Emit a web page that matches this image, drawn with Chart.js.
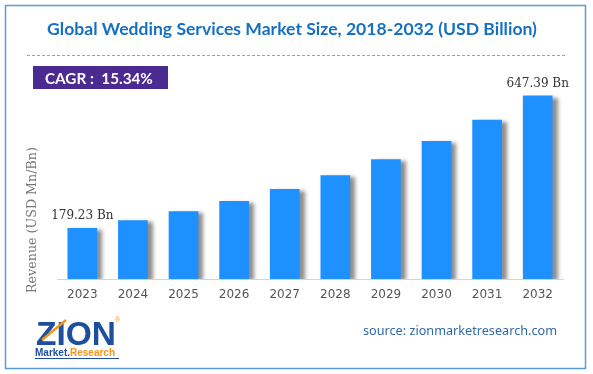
<!DOCTYPE html>
<html lang="en">
  <head>
    <meta charset="utf-8">
    <title>Global Wedding Services Market Size</title>
    <style>
      body { margin: 0; background: #fff; }
      canvas { display: block; }
    </style>
  </head>
  <body>
    <canvas id="myChart" width="593" height="374"></canvas>

    <script src="https://cdn.jsdelivr.net/npm/chart.js@4/dist/chart.umd.min.js"></script>
    <script>
      var years = ['2023', '2024', '2025', '2026', '2027', '2028', '2029', '2030', '2031', '2032'];
      var revenue = [179.23, 206.7, 238.4, 275.0, 317.2, 365.9, 422.0, 486.7, 561.4, 647.39];
      var labelled = [0, 9]; // only first and last bars get a value label

      var titleText = 'Global Wedding Services Market Size, 2018-2032 (USD Billion)';
      var cagrText = 'CAGR :  15.34%';
      var yTitle = 'Revenue (USD Mn/Bn)';
      var sourceText = 'source: zionmarketresearch.com';

      // fit a string into a given width
      function fitFont(ctx, text, width, weight, family) {
        ctx.font = weight + ' 100px ' + family;
        var size = 100 * width / ctx.measureText(text).width;
        ctx.font = weight + ' ' + size.toFixed(2) + 'px ' + family;
      }

      var shadowPlugin = {
        id: 'barShadow',
        beforeDatasetsDraw: function(chart) {
          var ctx = chart.ctx;
          ctx.save();
          ctx.shadowColor = 'rgba(0, 0, 0, 0.45)';
          ctx.shadowBlur = 4;
          ctx.shadowOffsetX = 5;
          ctx.shadowOffsetY = 2;
        },
        afterDatasetsDraw: function(chart) {
          chart.ctx.restore();
        }
      };

      var decoPlugin = {
        id: 'deco',
        beforeDraw: function(chart) {
          var ctx = chart.ctx;
          ctx.save();
          // outer frame
          ctx.strokeStyle = '#5b9bd5';
          ctx.lineWidth = 1.5;
          ctx.strokeRect(5.5, 5.5, 580, 363);

          // title
          ctx.fillStyle = '#1570c2';
          ctx.textAlign = 'center';
          ctx.textBaseline = 'alphabetic';
          fitFont(ctx, titleText, 490, 'bold', 'Lato, "Open Sans", sans-serif');
          ctx.fillText(titleText, 292, 35);

          // dashed separator
          ctx.strokeStyle = '#f58b3c';
          ctx.lineWidth = 1;
          ctx.setLineDash([3, 2]);
          ctx.beginPath();
          ctx.moveTo(27, 55.5);
          ctx.lineTo(567, 55.5);
          ctx.stroke();
          ctx.setLineDash([]);

          // CAGR box
          ctx.fillStyle = '#4b2a91';
          ctx.fillRect(33, 66, 135, 23);
          ctx.fillStyle = '#ffffff';
          ctx.textAlign = 'left';
          fitFont(ctx, cagrText, 108, 'bold', 'Lato, "Open Sans", sans-serif');
          ctx.fillText(cagrText, 45, 84);

          // y axis title
          ctx.save();
          ctx.translate(33, 220);
          ctx.rotate(-Math.PI / 2);
          ctx.textAlign = 'center';
          ctx.textBaseline = 'middle';
          ctx.fillStyle = '#777777';
          fitFont(ctx, yTitle, 146, 'normal', '"DejaVu Serif", serif');
          ctx.fillText(yTitle, 0, 0);
          ctx.restore();

          // logo
          ctx.textAlign = 'left';
          ctx.textBaseline = 'alphabetic';
          ctx.fillStyle = '#1d4f9e';
          fitFont(ctx, 'ZION', 80, 'bold', '"Liberation Sans", Arial, sans-serif');
          ctx.fillText('ZION', 36, 345);
          ctx.strokeStyle = '#f7941d';
          ctx.lineWidth = 2.5;
          ctx.beginPath();
          ctx.moveTo(42, 340);
          ctx.lineTo(66, 320);
          ctx.stroke();
          ctx.font = 'bold 10px "Liberation Sans", Arial, sans-serif';
          ctx.fillStyle = '#1d4f9e';
          ctx.fillText('Market.', 35, 356);
          var mw = ctx.measureText('Market.').width;
          ctx.fillStyle = '#f7941d';
          ctx.fillText('Research', 35 + mw, 356);
          ctx.strokeStyle = '#1d4f9e';
          ctx.lineWidth = 1;
          ctx.beginPath();
          ctx.moveTo(35, 358.5);
          ctx.lineTo(119, 358.5);
          ctx.stroke();
          ctx.font = '7px sans-serif';
          ctx.fillStyle = '#f7941d';
          ctx.fillText('\u00ae', 115, 322);

          // source
          ctx.textAlign = 'right';
          ctx.textBaseline = 'middle';
          ctx.fillStyle = '#2f6aa8';
          fitFont(ctx, sourceText, 194, 'normal', '"Noto Sans", "Open Sans", sans-serif');
          ctx.fillText(sourceText, 557, 331);
          ctx.restore();
        },
        afterDatasetsDraw: function(chart) {
          var ctx = chart.ctx;
          var meta = chart.getDatasetMeta(0);
          ctx.save();
          ctx.fillStyle = '#333333';
          ctx.textAlign = 'center';
          ctx.textBaseline = 'middle';
          ctx.font = '12px "DejaVu Serif", serif';
          labelled.forEach(function(i) {
            var bar = meta.data[i];
            ctx.fillText(revenue[i].toFixed(2) + ' Bn', bar.x, bar.y - 12);
          });
          ctx.restore();
        }
      };

      var ctx = document.getElementById('myChart').getContext('2d');
      var myChart = new Chart(ctx, {
        type: 'bar',
        data: {
          labels: years,
          datasets: [{
            label: 'Revenue',
            data: revenue,
            backgroundColor: '#1e90ff',
            borderWidth: 0,
            barThickness: 29
          }]
        },
        options: {
          responsive: false,
          animation: false,
          layout: {
            padding: { left: 57, right: 30, top: 81, bottom: 65 }
          },
          plugins: {
            legend: { display: false },
            tooltip: { enabled: false },
            title: { display: false }
          },
          scales: {
            x: {
              grid: { display: false, drawTicks: false },
              border: { display: true, color: '#d4d4d4', width: 1 },
              ticks: {
                color: '#555555',
                padding: 9,
                font: { family: '"DejaVu Sans", Verdana, sans-serif', size: 12 }
              },
              afterFit: function(scale) { scale.height = 30; }
            },
            y: {
              display: false,
              min: 0,
              max: 700
            }
          }
        },
        plugins: [shadowPlugin, decoPlugin]
      });
    </script>
  </body>
</html>
